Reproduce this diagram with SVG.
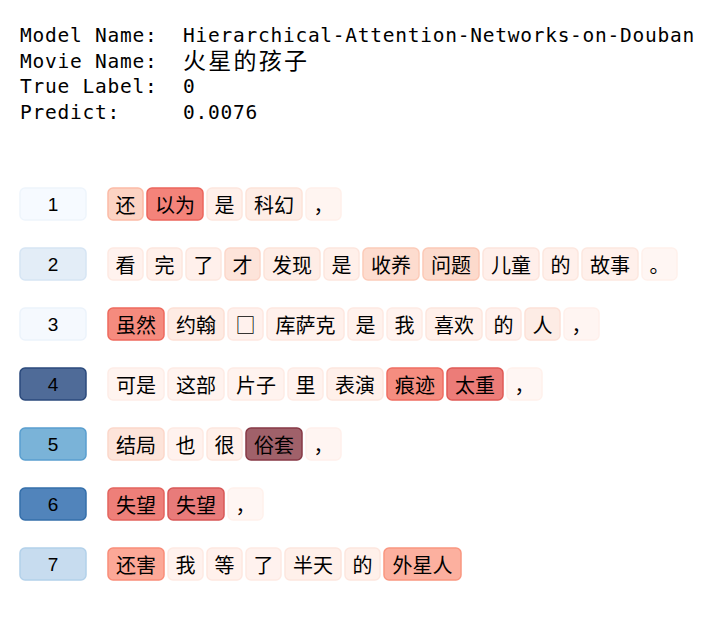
<svg xmlns="http://www.w3.org/2000/svg" width="708" height="621" viewBox="0 0 708 621">
<style>
  .hd { font-family: "DejaVu Sans Mono", "Liberation Mono", monospace; font-size: 19.5px; letter-spacing: 0.76px; fill: #000; }
  .hdc { font-family: "Noto Sans CJK SC", sans-serif; font-size: 23px; fill: #000; }
  .b { stroke-width: 1.5; }
  .w { font-family: "Noto Sans CJK SC", "Noto Sans CJK JP", sans-serif; font-size: 20px; fill: #000; text-anchor: middle; dominant-baseline: central; }
  .n { font-family: "Liberation Sans", "DejaVu Sans", sans-serif; font-size: 19px; fill: #000; text-anchor: middle; dominant-baseline: central; }
</style>
<rect width="708" height="621" fill="#ffffff"/>

<g id="header">
  <text class="hd" x="20" y="42">Model Name:</text>
  <text class="hd" x="183" y="42" textLength="512" lengthAdjust="spacing">Hierarchical-Attention-Networks-on-Douban</text>
  <text class="hd" x="20" y="67.5">Movie Name:</text>
  <text class="hdc" x="183" y="69" textLength="124" lengthAdjust="spacing">火星的孩子</text>
  <text class="hd" x="20" y="93">True Label:</text>
  <text class="hd" x="183" y="93">0</text>
  <text class="hd" x="20" y="118.5">Predict:</text>
  <text class="hd" x="183" y="118.5">0.0076</text>
</g>

<g id="row1">
  <g id="label1"><rect class="b" x="20" y="188" width="66" height="32" rx="5" fill="#f6faff" stroke="#eef5fc"/><text class="n" x="53" y="204">1</text></g>
  <g id="r1w1"><rect class="b" x="108" y="188" width="35" height="32" rx="5" fill="#fcd3c3" stroke="#fbbba6"/><text class="w" x="125.5" y="204">还</text></g>
  <g id="r1w2"><rect class="b" x="147" y="188" width="56" height="32" rx="5" fill="#f4837a" stroke="#eb655c"/><text class="w" x="175" y="204">以为</text></g>
  <g id="r1w3"><rect class="b" x="207" y="188" width="35" height="32" rx="5" fill="#fff0ea" stroke="#fde6de"/><text class="w" x="224.5" y="204">是</text></g>
  <g id="r1w4"><rect class="b" x="246" y="188" width="56" height="32" rx="5" fill="#feede6" stroke="#fde3d9"/><text class="w" x="274" y="204">科幻</text></g>
  <g id="r1w5"><rect class="b" x="306" y="188" width="35" height="32" rx="5" fill="#fff5f1" stroke="#fff0ea"/><text class="w" x="323.5" y="204">，</text></g>
</g>

<g id="row2">
  <g id="label2"><rect class="b" x="20" y="248" width="66" height="32" rx="5" fill="#e3edf7" stroke="#d6e5f4"/><text class="n" x="53" y="264">2</text></g>
  <g id="r2w1"><rect class="b" x="108" y="248" width="35" height="32" rx="5" fill="#fff2ee" stroke="#feeae3"/><text class="w" x="125.5" y="264">看</text></g>
  <g id="r2w2"><rect class="b" x="147" y="248" width="35" height="32" rx="5" fill="#fff0ea" stroke="#fde6de"/><text class="w" x="164.5" y="264">完</text></g>
  <g id="r2w3"><rect class="b" x="186" y="248" width="35" height="32" rx="5" fill="#fff0eb" stroke="#fde7df"/><text class="w" x="203.5" y="264">了</text></g>
  <g id="r2w4"><rect class="b" x="225" y="248" width="35" height="32" rx="5" fill="#fde4da" stroke="#fcd7ca"/><text class="w" x="242.5" y="264">才</text></g>
  <g id="r2w5"><rect class="b" x="264" y="248" width="56" height="32" rx="5" fill="#feede6" stroke="#fde3d9"/><text class="w" x="292" y="264">发现</text></g>
  <g id="r2w6"><rect class="b" x="324" y="248" width="35" height="32" rx="5" fill="#fff0ea" stroke="#fde6de"/><text class="w" x="341.5" y="264">是</text></g>
  <g id="r2w7"><rect class="b" x="363" y="248" width="56" height="32" rx="5" fill="#fddccf" stroke="#fccbb9"/><text class="w" x="391" y="264">收养</text></g>
  <g id="r2w8"><rect class="b" x="423" y="248" width="56" height="32" rx="5" fill="#fcdacc" stroke="#fcc9b6"/><text class="w" x="451" y="264">问题</text></g>
  <g id="r2w9"><rect class="b" x="483" y="248" width="56" height="32" rx="5" fill="#ffefea" stroke="#fde5dd"/><text class="w" x="511" y="264">儿童</text></g>
  <g id="r2w10"><rect class="b" x="543" y="248" width="35" height="32" rx="5" fill="#fff0eb" stroke="#fde7df"/><text class="w" x="560.5" y="264">的</text></g>
  <g id="r2w11"><rect class="b" x="582" y="248" width="56" height="32" rx="5" fill="#fff0eb" stroke="#fde7df"/><text class="w" x="610" y="264">故事</text></g>
  <g id="r2w12"><rect class="b" x="642" y="248" width="35" height="32" rx="5" fill="#fff6f3" stroke="#fff1ec"/><text class="w" x="659.5" y="264">。</text></g>
</g>

<g id="row3">
  <g id="label3"><rect class="b" x="20" y="308" width="66" height="32" rx="5" fill="#f5f9fe" stroke="#ecf3fb"/><text class="n" x="53" y="324">3</text></g>
  <g id="r3w1"><rect class="b" x="108" y="308" width="56" height="32" rx="5" fill="#f58b7e" stroke="#ee6a5d"/><text class="w" x="136" y="324">虽然</text></g>
  <g id="r3w2"><rect class="b" x="168" y="308" width="56" height="32" rx="5" fill="#feebe3" stroke="#fde0d5"/><text class="w" x="196" y="324">约翰</text></g>
  <g id="r3w3"><rect class="b" x="228" y="308" width="35" height="32" rx="5" fill="#fff1ed" stroke="#fee8e1"/><text class="w" x="245.5" y="324">□</text></g>
  <g id="r3w4"><rect class="b" x="267" y="308" width="77" height="32" rx="5" fill="#fff1ec" stroke="#fee7e0"/><text class="w" x="305.5" y="324">库萨克</text></g>
  <g id="r3w5"><rect class="b" x="348" y="308" width="35" height="32" rx="5" fill="#fff2ed" stroke="#fee9e2"/><text class="w" x="365.5" y="324">是</text></g>
  <g id="r3w6"><rect class="b" x="387" y="308" width="35" height="32" rx="5" fill="#fff3ef" stroke="#feebe5"/><text class="w" x="404.5" y="324">我</text></g>
  <g id="r3w7"><rect class="b" x="426" y="308" width="56" height="32" rx="5" fill="#fff0ea" stroke="#fde6de"/><text class="w" x="454" y="324">喜欢</text></g>
  <g id="r3w8"><rect class="b" x="486" y="308" width="35" height="32" rx="5" fill="#fff1ed" stroke="#fee8e1"/><text class="w" x="503.5" y="324">的</text></g>
  <g id="r3w9"><rect class="b" x="525" y="308" width="35" height="32" rx="5" fill="#fdece5" stroke="#fde1d7"/><text class="w" x="542.5" y="324">人</text></g>
  <g id="r3w10"><rect class="b" x="564" y="308" width="35" height="32" rx="5" fill="#fff5f2" stroke="#fff0eb"/><text class="w" x="581.5" y="324">，</text></g>
</g>

<g id="row4">
  <g id="label4"><rect class="b" x="20" y="368" width="66" height="32" rx="5" fill="#4f6b98" stroke="#2b4a7c"/><text class="n" x="53" y="384">4</text></g>
  <g id="r4w1"><rect class="b" x="108" y="368" width="56" height="32" rx="5" fill="#fff4f0" stroke="#feede7"/><text class="w" x="136" y="384">可是</text></g>
  <g id="r4w2"><rect class="b" x="168" y="368" width="56" height="32" rx="5" fill="#fff3ef" stroke="#feebe5"/><text class="w" x="196" y="384">这部</text></g>
  <g id="r4w3"><rect class="b" x="228" y="368" width="56" height="32" rx="5" fill="#fff3ef" stroke="#feebe5"/><text class="w" x="256" y="384">片子</text></g>
  <g id="r4w4"><rect class="b" x="288" y="368" width="35" height="32" rx="5" fill="#fff3ef" stroke="#feebe5"/><text class="w" x="305.5" y="384">里</text></g>
  <g id="r4w5"><rect class="b" x="327" y="368" width="56" height="32" rx="5" fill="#fff0ea" stroke="#fde6de"/><text class="w" x="355" y="384">表演</text></g>
  <g id="r4w6"><rect class="b" x="387" y="368" width="56" height="32" rx="5" fill="#f58d80" stroke="#ef6d61"/><text class="w" x="415" y="384">痕迹</text></g>
  <g id="r4w7"><rect class="b" x="447" y="368" width="56" height="32" rx="5" fill="#ec7c78" stroke="#df5a55"/><text class="w" x="475" y="384">太重</text></g>
  <g id="r4w8"><rect class="b" x="507" y="368" width="35" height="32" rx="5" fill="#fff6f3" stroke="#fff1ec"/><text class="w" x="524.5" y="384">，</text></g>
</g>

<g id="row5">
  <g id="label5"><rect class="b" x="20" y="428" width="66" height="32" rx="5" fill="#7ab3d8" stroke="#5a9fcf"/><text class="n" x="53" y="444">5</text></g>
  <g id="r5w1"><rect class="b" x="108" y="428" width="56" height="32" rx="5" fill="#fde4da" stroke="#fcd7ca"/><text class="w" x="136" y="444">结局</text></g>
  <g id="r5w2"><rect class="b" x="168" y="428" width="35" height="32" rx="5" fill="#fff2ee" stroke="#feeae3"/><text class="w" x="185.5" y="444">也</text></g>
  <g id="r5w3"><rect class="b" x="207" y="428" width="35" height="32" rx="5" fill="#fff0ea" stroke="#fde6de"/><text class="w" x="224.5" y="444">很</text></g>
  <g id="r5w4"><rect class="b" x="246" y="428" width="56" height="32" rx="5" fill="#a0616a" stroke="#873845"/><text class="w" x="274" y="444">俗套</text></g>
  <g id="r5w5"><rect class="b" x="306" y="428" width="35" height="32" rx="5" fill="#fff5f2" stroke="#fff0eb"/><text class="w" x="323.5" y="444">，</text></g>
</g>

<g id="row6">
  <g id="label6"><rect class="b" x="20" y="488" width="66" height="32" rx="5" fill="#5184bb" stroke="#346fab"/><text class="n" x="53" y="504">6</text></g>
  <g id="r6w1"><rect class="b" x="108" y="488" width="56" height="32" rx="5" fill="#ee7f79" stroke="#e4645e"/><text class="w" x="136" y="504">失望</text></g>
  <g id="r6w2"><rect class="b" x="168" y="488" width="56" height="32" rx="5" fill="#e87b7a" stroke="#d85857"/><text class="w" x="196" y="504">失望</text></g>
  <g id="r6w3"><rect class="b" x="228" y="488" width="35" height="32" rx="5" fill="#fff6f3" stroke="#fff1ec"/><text class="w" x="245.5" y="504">，</text></g>
</g>

<g id="row7">
  <g id="label7"><rect class="b" x="20" y="548" width="66" height="32" rx="5" fill="#c7dcef" stroke="#b3d1ea"/><text class="n" x="53" y="564">7</text></g>
  <g id="r7w1"><rect class="b" x="108" y="548" width="56" height="32" rx="5" fill="#fca897" stroke="#f98d79"/><text class="w" x="136" y="564">还害</text></g>
  <g id="r7w2"><rect class="b" x="168" y="548" width="35" height="32" rx="5" fill="#fff2ee" stroke="#feeae3"/><text class="w" x="185.5" y="564">我</text></g>
  <g id="r7w3"><rect class="b" x="207" y="548" width="35" height="32" rx="5" fill="#fff1ec" stroke="#fee7e0"/><text class="w" x="224.5" y="564">等</text></g>
  <g id="r7w4"><rect class="b" x="246" y="548" width="35" height="32" rx="5" fill="#fff2ee" stroke="#feeae3"/><text class="w" x="263.5" y="564">了</text></g>
  <g id="r7w5"><rect class="b" x="285" y="548" width="56" height="32" rx="5" fill="#fff0ea" stroke="#fde6de"/><text class="w" x="313" y="564">半天</text></g>
  <g id="r7w6"><rect class="b" x="345" y="548" width="35" height="32" rx="5" fill="#fff0ea" stroke="#fde6de"/><text class="w" x="362.5" y="564">的</text></g>
  <g id="r7w7"><rect class="b" x="384" y="548" width="77" height="32" rx="5" fill="#fcb09f" stroke="#f99680"/><text class="w" x="422.5" y="564">外星人</text></g>
</g>
</svg>
